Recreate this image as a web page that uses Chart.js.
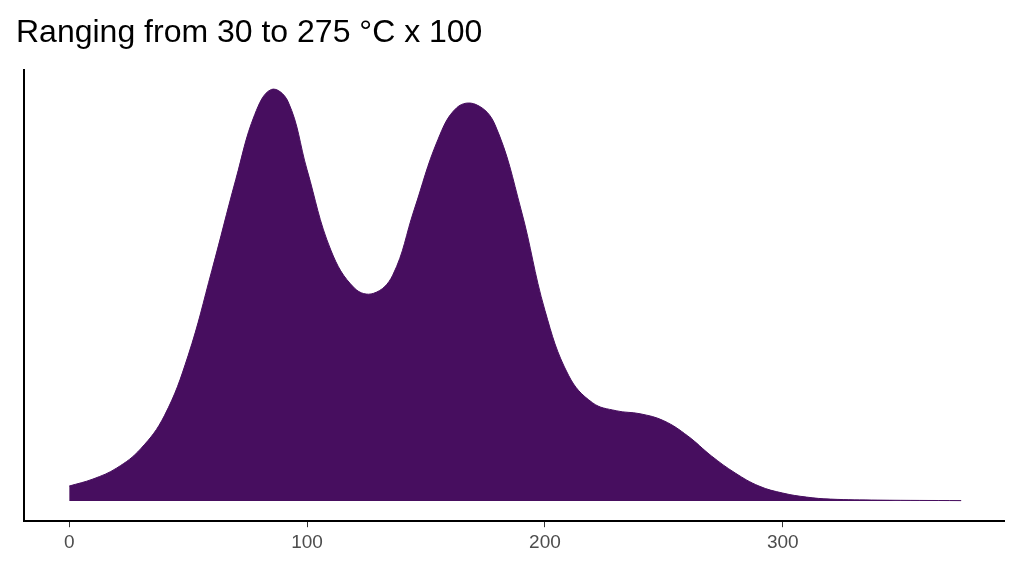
<!DOCTYPE html>
<html>
<head>
<meta charset="utf-8">
<script src="https://cdn.jsdelivr.net/npm/chart.js@4/dist/chart.umd.min.js"></script>
<style>
  html, body { margin: 0; background: #fff; }
  #wrap { width: 1024px; height: 576px; }
</style>
</head>
<body>
<div id="wrap"><canvas id="c"></canvas></div>
<script>
const titleText = "Ranging from 30 to 275 °C x 100";
const xValues = [0, 10, 20, 30, 40, 50, 60, 70, 78, 85, 92, 100, 110, 120, 128, 136, 145, 155, 163, 171, 179, 190, 200, 210, 220, 230, 240, 250, 260, 270, 280, 290, 300, 310, 320, 340, 375];
const density = [15, 22, 33, 52, 85, 145, 230, 320, 385, 410, 398, 330, 250, 212, 207, 225, 290, 360, 392, 395, 375, 290, 190, 125, 98, 90, 87, 80, 65, 45, 28, 15, 8, 4, 2, 1, 0.5];
const xTicks = [0, 100, 200, 300];

const points = xValues.map((x, i) => ({ x: x, y: density[i] }));

new Chart(document.getElementById('c'), {
    type: 'line',
    data: { datasets: [{
        data: points,
        fill: 'origin',
        backgroundColor: '#470E5F',
        borderColor: '#470E5F',
        borderWidth: 1,
        pointRadius: 0,
        tension: 0.4
    }] },
    options: {
        responsive: true, maintainAspectRatio: false, animation: false,
        layout: { padding: { left: 16, right: 20, top: 10, bottom: 18 } },
        plugins: {
            legend: { display: false }, tooltip: { enabled: false },
            title: { display: true, text: titleText, align: 'start', color: '#000',
                font: { family: 'Liberation Sans', size: 32, weight: 'normal' }, padding: { top: 4, bottom: 18 } }
        },
        scales: {
            x: {
                type: 'linear', min: -19, max: 393,
                afterBuildTicks: a => { a.ticks = xTicks.map(v => ({ value: v })); },
                grid: { drawOnChartArea: false, drawTicks: true, tickLength: 6, color: '#333', lineWidth: 1 },
                border: { color: '#000', width: 2 },
                ticks: { color: '#4d4d4d', font: { family: 'Liberation Sans', size: 19 }, padding: 4 }
            },
            y: {
                min: -20, max: 429,
                grid: { display: false },
                border: { color: '#000', width: 2 },
                ticks: { display: false }
            }
        }
    }
});
</script>
</body>
</html>
